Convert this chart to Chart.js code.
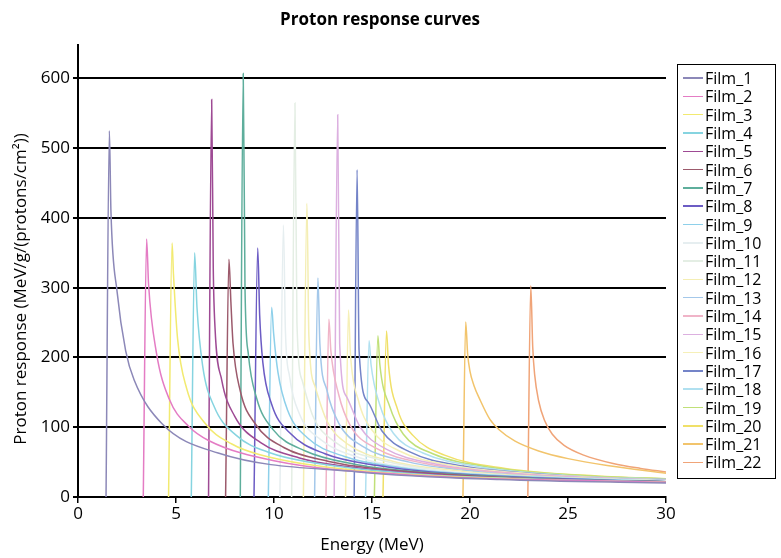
<!DOCTYPE html>
<html>
<head>
<meta charset="utf-8">
<title>Proton response curves</title>
<script src="https://cdn.jsdelivr.net/npm/chart.js@4.4.1/dist/chart.umd.min.js"></script>
<style>
  body { margin: 0; background: #fff; }
  #wrap { position: relative; width: 781px; height: 558px; }
  #legend {
    position: absolute; left: 677px; top: 64px; width: 99px; height: 415px;
    box-sizing: border-box; border: 1.5px solid #000; padding-top: 4px;
    font-family: "Open Sans", "Noto Sans", sans-serif; font-size: 16px; color: #000;
  }
  #legend .item { display: flex; align-items: center; height: 18.3px; }
  #legend .swatch { width: 20px; height: 1.5px; margin-left: 5px; margin-right: 2px; }
</style>
</head>
<body>
<div id="wrap">
  <canvas id="responseChart" width="781" height="558"></canvas>
  <div id="legend"></div>
</div>
<script>
// energy (MeV), response, one list per film
const film_1  = [[1.43,0],[1.6,525],[1.68,410],[2.0,293],[2.43,210],[2.86,168],[4.29,105],[7.15,63],[14.3,36],[21.5,25],[30,20]];
const film_2  = [[3.33,0],[3.5,370],[3.6,305],[4.0,207],[4.66,140],[5.66,101],[6.66,81],[10,52],[16.7,32],[30,21]];
const film_3  = [[4.62,0],[4.8,364],[4.87,320],[5.08,227],[5.54,156],[6.47,106],[7.85,76],[9.24,61],[13.9,39],[23.1,25],[30,21]];
const film_4  = [[5.78,0],[5.95,350],[6.07,272],[6.36,188],[6.94,130],[8.09,88],[9.83,63],[11.6,51],[17.3,33],[30,21]];
const film_5  = [[6.66,0],[6.82,570],[6.9,330],[6.99,243],[7.33,168],[7.99,116],[9.32,78],[11.3,56],[13.3,45],[20,29],[30,21]];
const film_6  = [[7.53,0],[7.7,341],[7.8,280],[7.91,220],[8.28,152],[9.04,105],[10.5,71],[12.8,51],[15.1,41],[22.6,27],[30,22]];
const film_7  = [[8.28,0],[8.43,607],[8.52,300],[8.69,205],[9.11,142],[9.94,97],[11.6,66],[14.1,47],[16.6,38],[24.8,25],[30,22]];
const film_8  = [[8.98,0],[9.17,357],[9.27,260],[9.43,193],[9.88,133],[10.8,92],[12.6,62],[15.3,45],[18,36],[26.9,24],[30,22]];
const film_9  = [[9.71,0],[9.88,272],[9.98,235],[10.2,179],[10.7,124],[11.7,85],[13.6,58],[16.5,42],[19.4,34],[30,22]];
const film_10 = [[10.3,0],[10.48,390],[10.58,240],[10.8,172],[11.3,119],[12.4,82],[14.4,56],[17.5,40],[20.6,32],[25.8,26],[30,23]];
const film_11 = [[10.9,0],[11.07,565],[11.17,250],[11.45,166],[12.0,115],[13.1,79],[15.3,54],[18.5,38],[21.8,31],[27.3,25],[30,23]];
const film_12 = [[11.5,0],[11.68,421],[11.78,230],[12.1,158],[12.7,109],[13.8,75],[16.1,51],[19.6,37],[23,30],[30,23]];
const film_13 = [[12.07,0],[12.24,314],[12.34,220],[12.7,153],[13.3,106],[14.5,73],[16.9,50],[20.5,36],[24.1,29],[30,24]];
const film_14 = [[12.65,0],[12.8,255],[12.9,210],[13.3,147],[13.9,102],[15.2,70],[17.7,48],[21.5,35],[25.3,28],[30,24]];
const film_15 = [[13.07,0],[13.25,548],[13.35,220],[13.7,144],[14.4,100],[15.7,69],[18.3,47],[22.2,34],[26.1,28],[30,24]];
const film_16 = [[13.65,0],[13.8,268],[13.9,205],[14.3,139],[15.0,96],[16.4,66],[19.1,45],[23.2,33],[27.3,27],[30,25]];
const film_17 = [[14.09,0],[14.24,469],[14.34,210],[14.8,136],[15.5,95],[16.9,65],[19.7,44],[24,32],[28.2,26],[30,25]];
const film_18 = [[14.67,0],[14.85,224],[14.95,190],[15.4,132],[16.1,91],[17.6,63],[20.5,43],[24.9,31],[30,25]];
const film_19 = [[15.12,0],[15.3,231],[15.4,190],[15.9,130],[16.6,90],[18.1,62],[21.2,42],[25.7,31],[30,26]];
const film_20 = [[15.56,0],[15.74,238],[15.84,190],[16.3,126],[17.1,88],[18.7,60],[21.8,41],[26.5,30],[30,26]];
const film_21 = [[19.64,0],[19.78,251],[19.88,205],[20.0,180],[20.2,160],[20.5,140],[21.0,112],[21.5,96],[22.3,80],[23.5,66],[25,55],[27,45],[30,34]];
const film_22 = [[22.95,0],[23.1,303],[23.2,215],[23.3,175],[23.5,138],[23.8,110],[24.2,90],[24.8,74],[25.8,60],[27.3,48],[28.7,41],[30,36]];

const films = [film_1, film_2, film_3, film_4, film_5, film_6, film_7, film_8, film_9, film_10, film_11,
               film_12, film_13, film_14, film_15, film_16, film_17, film_18, film_19, film_20, film_21, film_22];
const filmNames = films.map((f, i) => 'Film_' + (i + 1));

const energyTicks = [0, 5, 10, 15, 20, 25, 30];
const responseTicks = [0, 100, 200, 300, 400, 500, 600];

// line colours, same order as the films
const palette = ['#8c88b8', '#e47cc4', '#f2ea70', '#86d4e0', '#9e4a94', '#9c5a6c', '#5eae9c', '#6c5cc4',
                 '#8ed0ea', '#e6eef0', '#e4eee4', '#f4eeb4', '#a4c8ea', '#f0b4c8', '#dcb0e0', '#f6f0b8',
                 '#7484c8', '#b0e0f0', '#c0e078', '#f0e068', '#f2c46c', '#f0a478'];

const FONT = '"Open Sans", "Noto Sans", sans-serif';

// titles drawn by hand so they sit where the original has them
const titlesPlugin = {
    id: 'titles',
    afterDraw(chart) {
        const ctx = chart.ctx;
        ctx.save();
        ctx.fillStyle = '#000';
        ctx.textAlign = 'center';
        ctx.textBaseline = 'middle';
        ctx.font = 'bold 17px ' + FONT;
        ctx.fillText('Proton response curves', 380, 20);
        ctx.font = '17px ' + FONT;
        ctx.fillText('Energy (MeV)', 372, 545);
        ctx.translate(21, 289);
        ctx.rotate(-Math.PI / 2);
        ctx.fillText('Proton response (MeV/g/(protons/cm²))', 0, 0);
        ctx.restore();
    }
};

const chart = new Chart(document.getElementById('responseChart'), {
    type: 'line',
    data: {
        datasets: films.map((f, i) => ({
            label: filmNames[i],
            data: f.map(([x, y]) => ({ x, y })),
            borderColor: palette[i],
            backgroundColor: palette[i],
            borderWidth: 1.5,
            pointRadius: 0,
            cubicInterpolationMode: 'monotone',
            fill: false
        }))
    },
    options: {
        responsive: false,
        animation: false,
        layout: { padding: { top: 45, right: 115 } },
        plugins: {
            legend: { display: false },
            title: { display: false },
            tooltip: { enabled: false }
        },
        scales: {
            x: {
                type: 'linear',
                min: 0,
                max: 30,
                afterFit: (s) => { s.height = 61; },
                afterBuildTicks: (s) => { s.ticks = energyTicks.map(v => ({ value: v })); },
                ticks: { color: '#000', font: { family: FONT, size: 17 }, padding: 1 },
                grid: { drawOnChartArea: false, drawTicks: true, tickLength: 6, color: '#000', lineWidth: 1.5 },
                border: { color: '#000', width: 2 }
            },
            y: {
                min: 0,
                max: 648,
                afterFit: (s) => { s.width = 78; },
                afterBuildTicks: (s) => { s.ticks = responseTicks.map(v => ({ value: v })); },
                ticks: { color: '#000', font: { family: FONT, size: 17 }, padding: 3 },
                grid: { color: '#000', lineWidth: 2, tickLength: 5 },
                border: { color: '#000', width: 2 }
            }
        }
    },
    plugins: [titlesPlugin]
});

// legend box on the right
const legendEl = document.getElementById('legend');
chart.data.datasets.forEach(ds => {
    const row = document.createElement('div');
    row.className = 'item';
    const sw = document.createElement('span');
    sw.className = 'swatch';
    sw.style.background = ds.borderColor;
    const txt = document.createElement('span');
    txt.textContent = ds.label;
    row.appendChild(sw);
    row.appendChild(txt);
    legendEl.appendChild(row);
});
</script>
</body>
</html>
